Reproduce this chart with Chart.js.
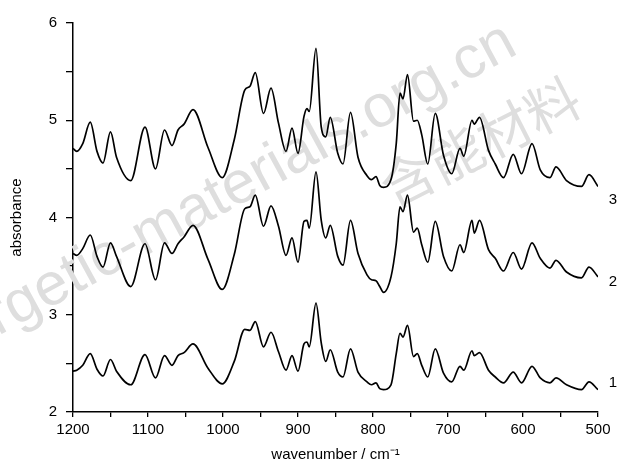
<!DOCTYPE html>
<html>
<head>
<meta charset="utf-8">
<script src="https://cdn.jsdelivr.net/npm/chart.js@4.4.1/dist/chart.umd.min.js"></script>
<style>
  html, body { margin: 0; padding: 0; background: #fff; }
  canvas { display: block; }
</style>
</head>
<body>
<canvas id="ir-chart" width="619" height="462"></canvas>
<script>
// IR spectra, wavenumber (cm-1) vs absorbance, three offset traces
let wavenumbers = [
  1200, 1195, 1187, 1177, 1168, 1160, 1150, 1142, 1123, 1104, 1090, 1078,
  1068, 1060, 1052, 1040, 1020, 1001, 985, 971, 964, 957, 946, 936, 926,
  916, 908, 900, 892, 888, 885, 876, 869, 863, 857, 847, 840, 830, 820, 808,
  802, 796, 791, 786, 776, 769, 764, 760, 754, 746, 741, 735, 727, 717, 706,
  695, 684, 679, 668, 665, 658, 646, 637, 626, 613, 602, 588, 577, 564, 556,
  542, 522, 512, 500,
];
let absorbance1 = [
  2.42, 2.43, 2.48, 2.6, 2.44, 2.37, 2.54, 2.42, 2.28, 2.59, 2.35, 2.58,
  2.48, 2.58, 2.61, 2.7, 2.45, 2.29, 2.52, 2.85, 2.84, 2.93, 2.67, 2.82, 2.62,
  2.43, 2.58, 2.42, 2.7, 2.72, 2.67, 3.12, 2.71, 2.52, 2.64, 2.41, 2.36, 2.65, 2.41, 2.31,
  2.28, 2.3, 2.24, 2.23, 2.28, 2.6, 2.81, 2.77, 2.89, 2.57, 2.6, 2.48, 2.36, 2.65, 2.4,
  2.31, 2.47, 2.43, 2.63, 2.58, 2.61, 2.43, 2.36, 2.3, 2.41, 2.3, 2.47, 2.35, 2.3, 2.35,
  2.28, 2.23, 2.31, 2.23,
];
let absorbance2 = [
  3.63, 3.61, 3.68, 3.82, 3.6, 3.49, 3.74, 3.6, 3.29, 3.73, 3.36, 3.74,
  3.63, 3.73, 3.8, 3.92, 3.57, 3.26, 3.62, 4.09, 4.11, 4.23, 3.91, 4.12, 3.91,
  3.61, 3.79, 3.54, 3.96, 3.97, 3.89, 4.47, 3.97, 3.79, 3.92, 3.6, 3.51, 3.97, 3.63, 3.41,
  3.36, 3.35, 3.29, 3.23, 3.39, 3.73, 4.11, 4.06, 4.23, 3.85, 3.89, 3.72, 3.54, 3.96, 3.6,
  3.45, 3.72, 3.64, 3.97, 3.84, 3.97, 3.67, 3.58, 3.45, 3.64, 3.47, 3.74, 3.58, 3.48, 3.56,
  3.44, 3.38, 3.49, 3.39,
];
let absorbance3 = [
  4.71, 4.68, 4.76, 4.98, 4.68, 4.56, 4.88, 4.62, 4.38, 4.93, 4.5, 4.9,
  4.74, 4.9, 4.96, 5.11, 4.72, 4.41, 4.8, 5.31, 5.35, 5.49, 5.07, 5.33, 4.97,
  4.68, 4.92, 4.66, 5.04, 5.12, 5.09, 5.74, 4.93, 4.83, 5.03, 4.66, 4.55, 5.08, 4.62, 4.43,
  4.39, 4.42, 4.33, 4.31, 4.39, 4.76, 5.28, 5.22, 5.47, 4.99, 5.0, 4.85, 4.55, 5.07, 4.64,
  4.45, 4.71, 4.63, 5.0, 4.96, 5.03, 4.69, 4.55, 4.41, 4.65, 4.45, 4.76, 4.49, 4.41, 4.52,
  4.38, 4.32, 4.44, 4.32,
];
let seriesNames = ["1", "2", "3"];
let xTickLabels = [1200, 1100, 1000, 900, 800, 700, 600, 500];
let yTickLabels = [2, 3, 4, 5, 6];

function toPoints(ys) {
  return wavenumbers.map((wn, i) => ({ x: wn, y: ys[i] }));
}

let fontFamily = "'Liberation Sans', Arial, sans-serif";

// grey site watermark lying under the traces
let watermarkPlugin = {
  id: "watermark",
  beforeDatasetsDraw(chart) {
    let ctx = chart.ctx;
    ctx.save();
    ctx.fillStyle = "#dedede";
    ctx.translate(-2, 336);
    ctx.rotate((-28.5 * Math.PI) / 180);
    ctx.font = "60px " + fontFamily;
    ctx.textBaseline = "alphabetic";
    ctx.textAlign = "left";
    ctx.fillText("rgetic-materials.org.cn", 0, 0);
    ctx.restore();

    ctx.save();
    ctx.fillStyle = "#dedede";
    ctx.translate(480, 142);
    ctx.rotate((-27 * Math.PI) / 180);
    ctx.font = "54px 'Noto Sans CJK SC', sans-serif";
    ctx.textBaseline = "middle";
    ctx.textAlign = "center";
    ctx.fillText("含能材料", 0, 0);
    ctx.restore();
  },
};

// trace numbers to the right of the plot
let traceLabelPlugin = {
  id: "traceLabels",
  afterDatasetsDraw(chart) {
    let ctx = chart.ctx;
    let y = chart.scales.y;
    let anchors = [2.3, 3.34, 4.18];
    ctx.save();
    ctx.fillStyle = "#000";
    ctx.font = "15px " + fontFamily;
    ctx.textAlign = "center";
    ctx.textBaseline = "middle";
    seriesNames.forEach((name, i) => {
      ctx.fillText(name, chart.chartArea.right + 15, y.getPixelForValue(anchors[i]));
    });
    ctx.restore();
  },
};

let datasets = [absorbance1, absorbance2, absorbance3].map((ys, i) => ({
  label: seriesNames[i],
  data: toPoints(ys),
  borderColor: "#000",
  borderWidth: 1.7,
  pointRadius: 0,
  fill: false,
  cubicInterpolationMode: "monotone",
}));

let irChart = new Chart("ir-chart", {
  type: "line",
  data: { datasets: datasets },
  plugins: [watermarkPlugin, traceLabelPlugin],
  options: {
    responsive: false,
    animation: false,
    devicePixelRatio: 1,
    layout: { padding: { left: 0, right: 21, top: 23, bottom: 0 } },
    plugins: {
      legend: { display: false },
      tooltip: { enabled: false },
    },
    scales: {
      x: {
        type: "linear",
        reverse: true,
        min: 500,
        max: 1200,
        afterFit: (scale) => {
          scale.height = 50;
        },
        border: { color: "#000", width: 1.5 },
        grid: {
          drawOnChartArea: false,
          color: "#000",
          lineWidth: 1.3,
          tickLength: 5,
        },
        ticks: {
          stepSize: 50,
          autoSkip: false,
          maxRotation: 0,
          padding: 4,
          color: "#000",
          font: { family: fontFamily, size: 15 },
          callback: (value) => (xTickLabels.includes(value) ? value : ""),
        },
        title: {
          display: true,
          text: "wavenumber / cm⁻¹",
          color: "#000",
          font: { family: fontFamily, size: 15, lineHeight: 1 },
          padding: { top: 0, bottom: 0 },
        },
      },
      y: {
        type: "linear",
        min: 2,
        max: 6,
        afterFit: (scale) => {
          scale.width = 73;
        },
        border: { color: "#000", width: 1.5 },
        grid: {
          drawOnChartArea: false,
          color: "#000",
          lineWidth: 1.3,
          tickLength: 7,
        },
        ticks: {
          stepSize: 0.5,
          autoSkip: false,
          padding: 9,
          color: "#000",
          font: { family: fontFamily, size: 15 },
          callback: (value) => (yTickLabels.includes(value) ? value : ""),
        },
        title: {
          display: true,
          text: "absorbance",
          color: "#000",
          font: { family: fontFamily, size: 15, lineHeight: 1 },
          padding: { top: 9, bottom: 0 },
        },
      },
    },
  },
});
</script>
</body>
</html>
